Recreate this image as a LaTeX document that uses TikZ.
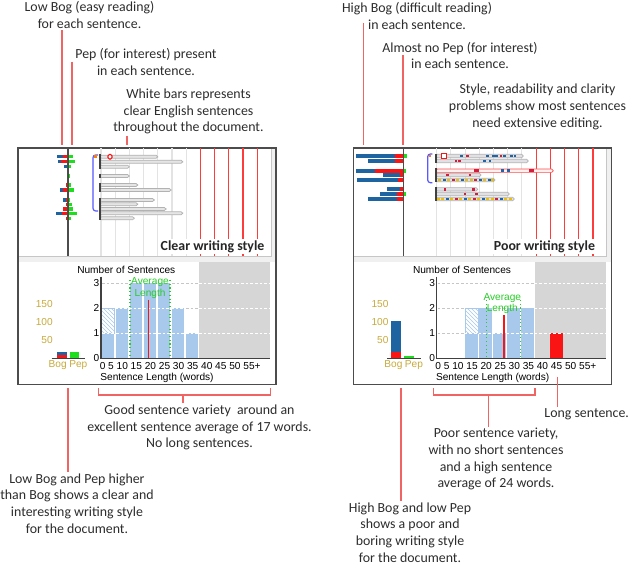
\documentclass[tikz,border=0pt]{standalone}
\usepackage{fontspec}
\setmainfont{Carlito}
\newfontfamily\chartfont{Liberation Sans}
\usetikzlibrary{patterns}

\definecolor{noteline}{RGB}{240,100,100}
\definecolor{gridred}{RGB}{255,60,60}
\definecolor{bogblue}{RGB}{30,100,160}
\definecolor{bogred}{RGB}{250,20,20}
\definecolor{pepgreen}{RGB}{30,220,30}
\definecolor{barblue}{RGB}{168,200,236}
\definecolor{zonegray}{RGB}{214,214,214}
\definecolor{scalegold}{RGB}{200,170,60}
\definecolor{avggreen}{RGB}{40,205,40}
\definecolor{textgray}{RGB}{45,45,45}
\definecolor{tagblue}{RGB}{30,100,170}
\definecolor{tagred}{RGB}{210,30,60}
\definecolor{tagyellow}{RGB}{240,190,0}

\begin{document}
\begin{tikzpicture}[x=0.75pt, y=-0.75pt,
	note/.style={align=center, text=textgray, inner sep=1pt, font=\fontsize{10.4}{12.5}\selectfont},
	callout/.style={draw=noteline, line width=1.1pt},
	paneltitle/.style={fill=white, inner sep=1pt, text=black!85, font=\bfseries\fontsize{10.4}{12.5}\selectfont},
	chartlabel/.style={inner sep=0pt, font=\chartfont\fontsize{7.6}{8.6}\selectfont},
	sentbar/.style={draw=gray!60, line width=0.5pt, rounded corners=1.2pt},
	parmark/.style={draw=black!75, line width=1.3pt},
	bracketline/.style={draw=blue!65, line width=0.9pt, rounded corners=2pt},
	hatch/.style={pattern=north west lines, pattern color=barblue, draw=barblue}]
	\useasboundingbox[fill=white] (0,0) rectangle (643,573);

	% window frames, grids and zones of both panels
	\foreach \dx in {0,335.7}{
	\begin{scope}[shift={(\dx,0)}]
		\fill[white] (18,148) rectangle (276,384.5);
		\fill[gray!12] (18.5,256.5) rectangle (275.5,262);
		\fill[gray!12] (271,148.5) rectangle (275.5,256.5);
		\draw[gray!45] (271,148.5) -- (271,256.5) -- (18.5,256.5);
		\draw[gray!60!black, line width=0.9pt] (18,148) rectangle (276,384.5);
		\foreach \k in {0,...,6}
			\draw[gray!22, line width=0.8pt] (101+14.2*\k,148.5) -- (101+14.2*\k,256.5);
		\foreach \k in {7,...,11}
			\draw[gridred, line width=0.9pt] (101+14.2*\k,148.5) -- (101+14.2*\k,256.5);
		\fill[zonegray] (199,262.5) rectangle (270,358.3);
		\foreach \v in {1,2,3}
			\draw[gray!45, line width=0.7pt, dash pattern=on 2pt off 1.5pt] (102,358.3-25*\v) -- (199,358.3-25*\v);
	\end{scope}}

	% clear writing style
	\foreach \y/\b/\r/\g in {156.7/56.7/63/73, 161.7/58/61/75, 166.7/64/66.5/70.5, 176/68/68/70,
			185/65.5/65.5/71, 190/60/63/74, 200/62.5/65.5/70, 204.3/66/66/71.5,
			209/63/63/73, 213.3/55.7/61.7/76.7, 218.3/66/66/71}{
		\fill[bogblue] (\b,\y-1.7) rectangle (68,\y+1.7);
		\fill[bogred] (\r,\y-1.7) rectangle (68,\y+1.7);
		\fill[pepgreen] (68,\y-1.7) rectangle (\g,\y+1.7);
	}
	\foreach \y/\e in {156.7/157.7, 161.7/182.7, 166.7/129.3, 176/129.3, 185/137.7, 190/171,
			200/154.3, 204.3/137.7, 209/166, 213.3/182.7, 218.3/134.3}
		\draw[sentbar, fill=gray!20] (100,\y-1.5) rectangle (\e,\y+1.5);
	\foreach \a/\b in {154.5/169, 174/178, 183/192.5, 198/220.5}
		\draw[parmark] (100,\a) -- (100,\b);
	\draw[bracketline] (98,155) -- (93,155) -- (93,211) -- (98,211);
	\fill[orange] (94,155.4) rectangle (96.6,158);
	\draw[bogred, line width=0.8pt, fill=white, rounded corners=1pt] (108,154.5) rectangle (112,159);
	\node[paneltitle, anchor=east] (cleartitle) at (266,246.7) {Clear writing style};

	\foreach \i/\h in {0/1,1/2,2/3,3/3,4/3,5/2,6/1}
		\fill[barblue] (101.7+14*\i,358.3) rectangle (114.3+14*\i,358.3-25*\h);
	\draw[hatch] (101.7,333.3) rectangle (114.3,308.3);
	\draw[white, line width=0.7pt, dash pattern=on 2pt off 1.5pt] (102,333.3) -- (199,333.3);
	\draw[white, line width=0.7pt, dash pattern=on 2pt off 1.5pt] (115,308.3) -- (185,308.3);
	\draw[avggreen, line width=0.8pt, dotted] (130,280) -- (130,358.3);
	\draw[avggreen, line width=0.8pt, dotted] (170,280) -- (170,358.3);
	\draw[bogred, line width=1pt] (148.6,300) -- (148.6,358.3);
	\node[chartlabel, align=center, text=avggreen] (clearavg) at (150,288) {Average\\Length};
	\fill[bogblue] (56.7,358.3) rectangle (66.7,352.3);
	\fill[bogred] (56.7,358.3) rectangle (66.7,355);
	\fill[pepgreen] (70,358.3) rectangle (79,351.7);

	% poor writing style
	\begin{scope}[shift={(335.7,0)}]
		\foreach \y/\b/\r/\g in {156/20.3/59.3/71, 161/32.6/59.3/68, 170.7/20.3/39.3/70, 175/47.6/64.3/68,
				180/21/62.6/68, 189.3/51/64.3/68, 194/44.3/61/70, 199/32/61/68}{
			\fill[bogblue] (\b,\y-2) rectangle (68,\y+2);
			\fill[bogred] (\r,\y-2) rectangle (68,\y+2);
			\fill[pepgreen] (68,\y-2) rectangle (\g,\y+2);
		}
		\foreach \y/\e in {156/187.6, 161/192.6, 175/145.3, 180/159.3, 189.3/142, 194/173.6, 199/178.6}
			\draw[sentbar, fill=blue!6!gray!22] (100,\y-1.7) rectangle (\e,\y+1.7);
		\draw[sentbar, draw=bogred!75, fill=red!6] (100,169) rectangle (217.6,172.4);
		\foreach \a/\b in {154/163.5, 168.5/182.5, 187/201.5}
			\draw[parmark] (100,\a) -- (100,\b);
		\draw[bracketline] (96.6,154) -- (92,154) -- (92,182.7) -- (96.6,182.7);
		\fill[orange] (93,154.7) rectangle (95.6,157.3);
		\draw[bogred, line width=1pt, fill=white] (106,153.5) rectangle (111,158.5);
		\foreach \x/\c in {126/tagblue, 132/tagred, 152/tagblue, 157.6/tagblue, 161/tagblue,
				165.3/tagred, 168.6/tagblue, 176/tagblue, 179.3/tagblue}
			\fill[\c] (\x-1.3,154.7) rectangle (\x+1.3,157.3);
		\foreach \x/\c in {120.3/tagred, 123.6/tagred, 148.6/tagblue, 154.3/tagblue}
			\fill[\c] (\x-1.3,159.7) rectangle (\x+1.3,162.3);
		\foreach \x/\c in {139.3/tagred, 142/tagred, 167/tagblue, 172.6/tagblue, 194.3/tagred, 197/tagred}
			\fill[\c] (\x-1.3,169.4) rectangle (\x+1.3,172);
		\foreach \x/\c in {112/tagred, 134.3/tagred}
			\fill[\c] (\x-1.3,173.7) rectangle (\x+1.3,176.3);
		\foreach \x/\c in {104/tagyellow, 108.5/tagblue, 113/tagyellow, 117.5/tagred, 122/tagyellow,
				126.5/tagblue, 131/tagyellow, 135.5/tagyellow, 140/tagred, 144.5/tagblue,
				149/tagyellow, 153.5/tagblue, 157/tagyellow}
			\fill[\c] (\x-1.4,178.6) rectangle (\x+1.4,181.4);
		\foreach \x/\c in {109.3/tagred, 137.6/tagred}
			\fill[\c] (\x-1.3,188) rectangle (\x+1.3,190.6);
		\foreach \x/\c in {129.3/tagred, 141/tagred}
			\fill[\c] (\x-1.3,192.7) rectangle (\x+1.3,195.3);
		\foreach \x/\c in {102.5/tagyellow, 107/tagyellow, 111.5/tagblue, 116/tagyellow, 120.5/tagred,
				125/tagyellow, 129.5/tagblue, 134/tagyellow, 138.5/tagred, 143/tagyellow,
				147.5/tagblue, 152/tagyellow, 156.5/tagyellow, 161/tagred, 165.5/tagblue,
				170/tagyellow, 175/tagyellow}
			\fill[\c] (\x-1.4,197.6) rectangle (\x+1.4,200.4);
		\node[paneltitle, anchor=east] (poortitle) at (261,246.7) {Poor writing style};

		\foreach \i/\h in {2/1,3/2,4/1,5/2,6/2}
			\fill[barblue] (101.7+14*\i,358.3) rectangle (114.3+14*\i,358.3-25*\h);
		\draw[hatch] (129.7,333.3) rectangle (142.3,308.3);
		\fill[bogred] (214,358.3) rectangle (227.3,333.3);
		\draw[white, line width=0.7pt, dash pattern=on 2pt off 1.5pt] (129,333.3) -- (199,333.3);
		\draw[avggreen, line width=0.8pt, dotted] (151,300) -- (151,358.3);
		\draw[avggreen, line width=0.8pt, dotted] (185,300) -- (185,358.3);
		\draw[bogred, line width=1pt] (168.2,315) -- (168.2,358.3);
		\node[chartlabel, align=center, text=avggreen] (pooravg) at (166.6,303.5) {Average\\Length};
		\fill[bogblue] (55.3,358.3) rectangle (65.3,320.7);
		\fill[bogred] (55.3,358.3) rectangle (65.3,352.3);
		\fill[pepgreen] (68.6,358.3) rectangle (78.6,356.3);
	\end{scope}

	% axes and scales of both panels
	\foreach \dx/\p in {0/l,335.7/r}{
	\begin{scope}[shift={(\dx,0)}]
		\draw[gray!60!black, line width=0.9pt] (68,148.5) -- (68,256.5);
		\foreach \v in {1,2,3}
			\draw[white, line width=0.7pt, dash pattern=on 2pt off 1.5pt] (199,358.3-25*\v) -- (270,358.3-25*\v);
		\draw[gray!50!black, line width=0.9pt] (101,276.7) -- (101,358.3) -- (270,358.3);
		\draw[gray!50!black, line width=0.8pt] (51.7,358.3) -- (85,358.3);
		\foreach \v in {0,...,3}
			\node[chartlabel, anchor=east] (\p-count\v) at (99.5,358.3-25*\v) {\v};
		\node[chartlabel, anchor=west] (\p-lengths) at (99.5,366) {0 5 10 15 20 25 30 35 40 45 50 55+};
		\node[chartlabel] (\p-xtitle) at (157,377.7) {Sentence Length (words)};
		\node[chartlabel] (\p-ytitle) at (126.3,270) {Number of Sentences};
		\node[chartlabel, text=scalegold, anchor=east] (\p-s150) at (53,304.3) {150};
		\node[chartlabel, text=scalegold, anchor=east] (\p-s100) at (53,321.7) {100};
		\node[chartlabel, text=scalegold, anchor=east] (\p-s50) at (53,340) {50};
		\node[chartlabel, text=scalegold] (\p-bog) at (57.7,365.5) {Bog};
		\node[chartlabel, text=scalegold] (\p-pep) at (78.3,365.5) {Pep};
	\end{scope}}

	% notes above
	\node[note] (lowbog) at (89.5,15.3) {Low Bog (easy reading)\\for each sentence.};
	\node[note] (peppresent) at (146,61.7) {Pep (for interest) present\\in each sentence.};
	\node[note] (whitebars) at (188.5,111.7) {White bars represents\\clear English sentences\\throughout the document.};
	\node[note] (highbog) at (417,15.7) {High Bog (difficult reading)\\in each sentence.};
	\node[note] (nopep) at (460,55.5) {Almost no Pep (for interest)\\in each sentence.};
	\node[note] (stylenote) at (537.5,107) {Style, readability and clarity\\problems show most sentences\\need extensive editing.};
	\coordinate (lowbogtip) at (62,145);
	\coordinate (peptip) at (72,145);
	\coordinate (whitetip) at (127,145);
	\coordinate (highbogtip) at (363.5,145);
	\coordinate (highbogfoot) at ([yshift=-5.5pt]highbog.center);
	\coordinate (nopeptip) at (403,145);
	\draw[callout] (lowbog.south -| lowbogtip) -- (lowbogtip);
	\draw[callout] (peppresent.center -| peptip) -- (peptip);
	\draw[callout] (whitebars.south -| whitetip) -- (whitetip);
	\draw[callout] (highbogfoot -| highbogtip) -- (highbogtip);
	\draw[callout] (nopep.center -| nopeptip) -- (nopeptip);

	% notes below
	\node[note] (goodvariety) at (199.5,427.6) {Good sentence variety\ \ around an\\excellent sentence average of 17 words.\\No long sentences.};
	\node[note] (lowbogpep) at (77,503.3) {Low Bog and Pep higher\\than Bog shows a clear and\\interesting writing style\\for the document.};
	\node[note] (longsent) at (586.7,414) {Long sentence.};
	\node[note] (poorvariety) at (496,459.3) {Poor sentence variety,\\with no short sentences\\and a high sentence\\average of 24 words.};
	\node[note] (highboglowpep) at (410,532.3) {High Bog and low Pep\\shows a poor and\\boring writing style\\for the document.};
	\coordinate (goodleft) at (98.3,388.3);
	\coordinate (goodright) at (270.3,388.3);
	\coordinate (goodmid) at (183,395);
	\coordinate (lowpeptip) at (68,388);
	\coordinate (poorleft) at (433.3,388.3);
	\coordinate (poorright) at (535,388.3);
	\coordinate (poormid) at (488.3,395);
	\coordinate (highpeptip) at (401,388);
	\coordinate (longtip) at (557.3,376.7);
	\draw[callout] (goodleft) -- (goodleft |- goodmid) -- (goodright |- goodmid) -- (goodright);
	\draw[callout] (goodmid) -- (goodmid |- goodvariety.north);
	\draw[callout] (lowpeptip) -- (lowpeptip |- lowbogpep.north);
	\draw[callout] (poorleft) -- (poorleft |- poormid) -- (poorright |- poormid) -- (poorright);
	\draw[callout] (poormid) -- (poormid |- poorvariety.north);
	\draw[callout] (highpeptip) -- (highpeptip |- highboglowpep.north);
	\draw[callout] (longtip) -- (longtip |- longsent.north);
\end{tikzpicture}
\end{document}
